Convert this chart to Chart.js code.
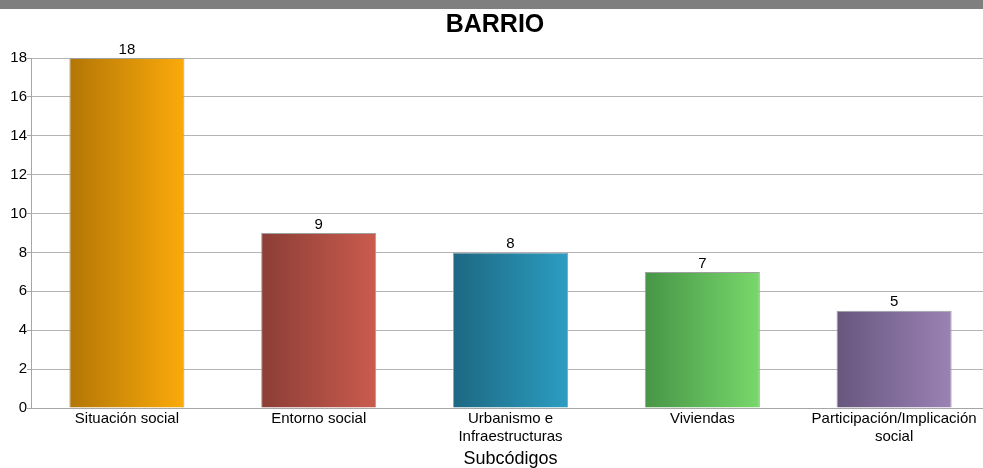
<!DOCTYPE html>
<html>
<head>
<meta charset="utf-8">
<script src="https://cdn.jsdelivr.net/npm/chart.js@4.4.1/dist/chart.umd.min.js"></script>
<style>
    html, body { margin: 0; padding: 0; overflow: hidden; background: #fff; }
    #band { position: absolute; left: 0; top: 0; width: 983px; height: 9px; background: #7f7f80; }
    #wrap { position: absolute; left: 0; top: 0; width: 990px; height: 468px; }
</style>
</head>
<body>
<div id="wrap"><canvas id="barrio"></canvas></div>
<div id="band"></div>
<script>
const categories = ['Situación social', 'Entorno social', ['Urbanismo e', 'Infraestructuras'], 'Viviendas', ['Participación/Implicación', 'social']];
const counts = [18, 9, 8, 7, 5];
const yTicks = [0, 2, 4, 6, 8, 10, 12, 14, 16, 18];

// left (dark) -> right (light) per bar
const gradientStops = [
    ['#b37606', '#fbaa0a'],
    ['#8c3e36', '#ca5b4e'],
    ['#1d6882', '#2c9dc1'],
    ['#479546', '#78d86b'],
    ['#67567e', '#9b82b4'],
];
const edgeColors = ['#a0a0a0', '#a0a0a0', '#a0a0a0', '#a0a0a0', '#a0a0a0'];

const font = "'Liberation Sans', Arial, sans-serif";

function barFill(context) {
    const chart = context.chart;
    const i = context.dataIndex;
    if (!chart.chartArea || !chart.scales.x) return gradientStops[i][1];
    const xs = chart.scales.x;
    const cx = xs.getPixelForValue(i);
    const w = (xs.width / categories.length) * 0.6;
    const g = chart.ctx.createLinearGradient(cx - w / 2, 0, cx + w / 2, 0);
    g.addColorStop(0, gradientStops[i][0]);
    g.addColorStop(1, gradientStops[i][1]);
    return g;
}

// value labels over the bars
const valueLabels = {
    id: 'valueLabels',
    afterDatasetsDraw(chart) {
        const ctx = chart.ctx;
        const meta = chart.getDatasetMeta(0);
        ctx.save();
        ctx.fillStyle = '#000';
        ctx.font = '15px ' + font;
        ctx.textAlign = 'center';
        ctx.textBaseline = 'bottom';
        meta.data.forEach((bar, i) => {
            ctx.fillText(String(counts[i]), bar.x, bar.y - 1);
        });
        ctx.restore();
    }
};

new Chart(document.getElementById('barrio'), {
    type: 'bar',
    data: {
        labels: categories,
        datasets: [{
            data: counts,
            backgroundColor: barFill,
            borderColor: edgeColors,
            borderWidth: 1,
            barPercentage: 0.6,
            categoryPercentage: 1.0,
        }]
    },
    options: {
        responsive: true,
        maintainAspectRatio: false,
        animation: false,
        layout: { padding: { top: 0, right: 0, bottom: 0, left: 0 } },
        scales: {
            x: {
                grid: { display: false, drawTicks: false },
                border: { color: '#a6a6a6', width: 1 },
                ticks: { color: '#000', font: { family: font, size: 15, lineHeight: 1.2 }, padding: 2, maxRotation: 0, autoSkip: false },
                title: { display: true, text: 'Subcódigos', color: '#000', font: { family: font, size: 18, lineHeight: 1.0 }, padding: { top: 0, bottom: 0 } },
                afterFit(scale) { scale.height = 60; }
            },
            y: {
                min: 0,
                max: 18,
                afterBuildTicks(scale) { scale.ticks = yTicks.map(v => ({ value: v })); },
                grid: { color: '#b4b4b4', tickLength: 4, tickColor: '#a6a6a6' },
                border: { color: '#a6a6a6', width: 1 },
                ticks: { color: '#000', font: { family: font, size: 15 }, padding: 0 },
                afterFit(scale) { scale.width = 31; }
            }
        },
        plugins: {
            legend: { display: false },
            tooltip: { enabled: false },
            title: {
                display: true,
                text: 'BARRIO',
                color: '#000',
                font: { family: font, size: 25, weight: 'bold' },
                padding: { top: 10, bottom: 18 }
            }
        }
    },
    plugins: [valueLabels]
});
</script>
</body>
</html>
